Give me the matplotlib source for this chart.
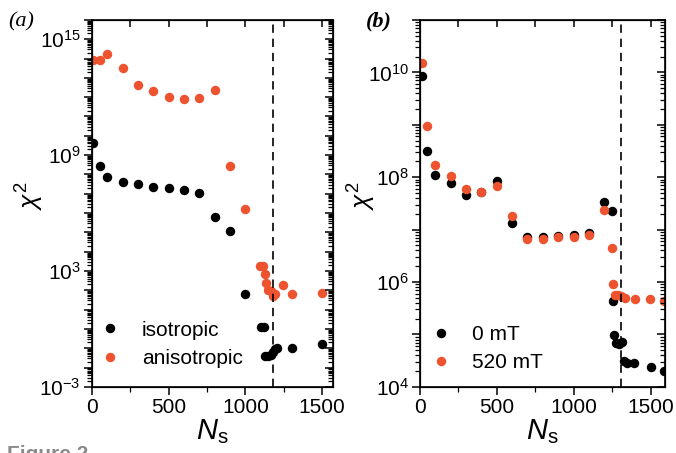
import numpy as np
import matplotlib
matplotlib.use("Agg")
import matplotlib.pyplot as plt
from matplotlib.ticker import FixedLocator, NullFormatter, LogLocator

plt.rcParams['font.family'] = ['Liberation Sans', 'DejaVu Sans']
plt.rcParams['mathtext.fontset'] = 'custom'
plt.rcParams['mathtext.rm'] = 'Liberation Sans'
plt.rcParams['mathtext.it'] = 'Liberation Sans:italic'

# panel (a): number of spins vs chi^2 (log10 values)
iso_n = [10, 50, 100, 200, 300, 400, 500, 600, 700, 800, 900, 1000,
         1100, 1120, 1125, 1145, 1165, 1180, 1190, 1205, 1300, 1500]
iso_log = [9.63, 8.46, 7.88, 7.60, 7.49, 7.37, 7.30, 7.19, 7.06, 5.81, 5.08, 1.80,
           0.11, 0.11, -1.40, -1.40, -1.35, -1.18, -1.06, -1.00, -0.97, -0.78]
aniso_n = [10, 50, 100, 200, 300, 400, 500, 600, 700, 800, 900, 1000,
           1095, 1115, 1125, 1135, 1150, 1165, 1178, 1194, 1245, 1300, 1500]
aniso_log = [13.92, 13.92, 14.26, 13.49, 12.63, 12.32, 12.03, 11.91, 11.95, 12.38, 8.46, 6.23,
             3.25, 3.25, 2.85, 2.37, 2.03, 1.96, 1.69, 1.82, 2.29, 1.79, 1.86]
cut_a = 1180

# panel (b): 0 mT and 520 mT
b0_n = [15, 50, 100, 200, 300, 400, 500, 600, 700, 800, 900, 1000, 1100, 1200, 1250,
        1255, 1265, 1275, 1295, 1315, 1325, 1350, 1390, 1500, 1590]
b0_log = [9.93, 8.50, 8.04, 7.88, 7.66, 7.72, 7.92, 7.12, 6.86, 6.86, 6.88, 6.90, 6.94, 7.53, 7.35,
          5.63, 4.98, 4.83, 4.81, 4.85, 4.50, 4.46, 4.45, 4.37, 4.30]
b520_n = [15, 50, 100, 200, 300, 400, 500, 600, 700, 800, 900, 1000, 1100, 1200, 1250,
          1257, 1268, 1289, 1311, 1337, 1398, 1495, 1586]
b520_log = [10.17, 8.98, 8.23, 8.03, 7.78, 7.72, 7.83, 7.26, 6.83, 6.83, 6.85, 6.86, 6.90, 7.38, 6.64,
            5.96, 5.75, 5.75, 5.73, 5.69, 5.68, 5.67, 5.64]
cut_b = 1310

ORANGE = '#ee5330'
FS = 15


def style_axes(ax, xmax, ymin_exp, ymax_exp, label_exps):
    ax.set_yscale('log')
    ax.set_xlim(0, xmax)
    ax.set_ylim(10.0 ** ymin_exp, 10.0 ** ymax_exp)
    decades = [10.0 ** e for e in range(ymin_exp, ymax_exp + 1)]
    ax.yaxis.set_major_locator(FixedLocator(decades))
    ax.yaxis.set_minor_locator(LogLocator(base=10, subs=np.arange(2, 10), numticks=100))
    ax.yaxis.set_minor_formatter(NullFormatter())
    labels = ['$10^{%d}$' % e if e in label_exps else '' for e in range(ymin_exp, ymax_exp + 1)]
    ax.set_yticklabels(labels)
    ax.set_xticks([0, 500, 1000, 1500])
    ax.set_xticks([250, 750, 1250], minor=True)
    ax.tick_params(axis='both', which='major', direction='out', length=6, width=1.1,
                   labelsize=FS, pad=2)
    ax.tick_params(axis='both', which='minor', direction='out', length=3.5, width=0.9)
    for s in ax.spines.values():
        s.set_linewidth(1.2)

    # mirrored inward ticks on right and top
    axr = ax.twinx()
    axr.set_yscale('log')
    axr.set_ylim(ax.get_ylim())
    axr.yaxis.set_major_locator(FixedLocator(decades))
    axr.yaxis.set_minor_locator(LogLocator(base=10, subs=np.arange(2, 10), numticks=100))
    axr.tick_params(axis='y', which='major', direction='in', length=6, width=1.1, labelright=False)
    axr.tick_params(axis='y', which='minor', direction='in', length=3.5, width=0.9, labelright=False)
    axt = ax.twiny()
    axt.set_xlim(ax.get_xlim())
    axt.set_xticks([0, 250, 500, 750, 1000, 1250, 1500])
    axt.tick_params(axis='x', which='major', direction='in', length=5, width=1.1, labeltop=False)
    return axr, axt


fig = plt.figure(figsize=(6.76, 4.53), dpi=100)
ax1 = fig.add_axes([0.136, 0.146, 0.357, 0.81])
ax2 = fig.add_axes([0.621, 0.146, 0.363, 0.81])

ms = 5.8
ax1.plot(iso_n, 10.0 ** np.array(iso_log), 'o', color='black', ms=ms, label='isotropic')
ax1.plot(aniso_n, 10.0 ** np.array(aniso_log), 'o', color=ORANGE, ms=ms, label='anisotropic')
ax1.axvline(cut_a, color='black', ls=(0, (5, 3.5)), lw=1.2)
style_axes(ax1, 1572, -3, 16, [-3, 3, 9, 15])

ax2.plot(b0_n, 10.0 ** np.array(b0_log), 'o', color='black', ms=ms, label='0 mT')
ax2.plot(b520_n, 10.0 ** np.array(b520_log), 'o', color=ORANGE, ms=ms, label='520 mT')
ax2.axvline(cut_b, color='black', ls=(0, (5, 3.5)), lw=1.2)
style_axes(ax2, 1595, 4, 11, [4, 6, 8, 10])

for ax, anchor, pad in ((ax1, (-0.03, 0.012), 1.05), (ax2, (-0.015, 0.0), 1.0)):
    ax.legend(loc='lower left', frameon=False, fontsize=FS, handletextpad=pad,
              handlelength=1.0, borderaxespad=0.3, labelspacing=0.45,
              bbox_to_anchor=anchor)
    ax.set_xlabel('$N$$_\\mathregular{s}$', fontsize=21, labelpad=0)
    ax.set_ylabel('$\\chi^2$', fontsize=19, labelpad=2,
                  fontfamily='Liberation Serif')

ax1.yaxis.set_label_coords(-0.19, 0.52)
ax2.yaxis.set_label_coords(-0.17, 0.52)

fig.text(0.012, 0.952, '(a)', fontsize=16, style='italic', family='Liberation Serif',
         va='center')
fig.text(0.542, 0.952, '(b)', fontsize=16, style='italic', weight='bold',
         family='Liberation Serif', va='center')
fig.text(0.01, 0.0175, 'Figure 2', fontsize=15, weight='bold', color='#8a8a8a', va='top')

fig.savefig('out.png', dpi=100)
